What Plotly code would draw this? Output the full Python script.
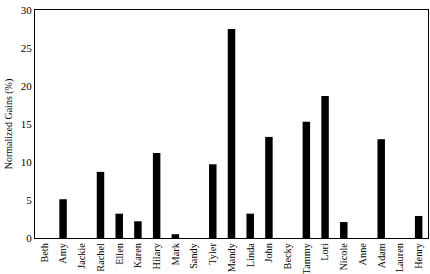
import plotly.graph_objects as go

names = ["Beth", "Amy", "Jackie", "Rachel", "Ellen", "Karen", "Hilary", "Mark", "Sandy", "Tyler",
         "Mandy", "Linda", "John", "Becky", "Tammy", "Lori", "Nicole", "Anne", "Adam", "Lauren", "Henry"]
gains = [0, 5.1, 0, 8.7, 3.2, 2.2, 11.2, 0.5, 0, 9.7,
         27.5, 3.2, 13.3, 0, 15.3, 18.7, 2.1, 0, 13.0, 0, 2.9]
y_ticks = [0, 5, 10, 15, 20, 25, 30]

fig = go.Figure(go.Bar(x=names, y=gains, marker=dict(color="black", line=dict(width=0)), width=0.4))

serif = "Liberation Serif"
fig.update_layout(
    width=430, height=274,
    margin=dict(l=35, r=2, t=10, b=36),
    paper_bgcolor="white", plot_bgcolor="white",
    font=dict(family=serif, size=11, color="black"),
    showlegend=False,
)
fig.update_xaxes(showline=True, linecolor="black", linewidth=1, mirror=True, automargin=False,
                 tickangle=-90, ticks="", showgrid=False, tickfont=dict(family=serif, size=10.3))
fig.update_yaxes(range=[0, 30], tickvals=y_ticks, showline=True, linecolor="black", linewidth=1,
                 mirror=True, ticks="", showgrid=False, zeroline=False, automargin=False,
                 title=dict(text="Normalized Gains (%)", standoff=6, font=dict(family=serif, size=10)),
                 tickfont=dict(family=serif, size=11))

fig.write_html("out.html")
